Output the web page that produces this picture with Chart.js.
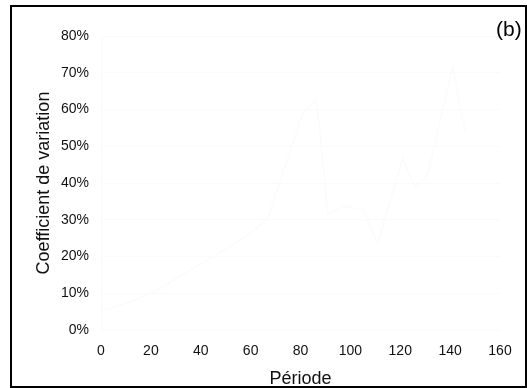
<!DOCTYPE html>
<html>
<head>
<meta charset="utf-8">
<script src="https://cdn.jsdelivr.net/npm/chart.js@4"></script>
<style>
  html, body { margin: 0; padding: 0; background: #fff; }
  #wrap { position: relative; width: 527px; height: 388px; }
  #cadre {
    position: absolute; left: 10px; top: 5px; width: 517px; height: 383px;
    border: 2px solid #000; box-sizing: border-box; pointer-events: none;
  }
  #lettre {
    position: absolute; left: 496px; top: 17px;
    font: 21px "Liberation Sans", Arial, sans-serif; color: #000;
  }
</style>
</head>
<body>
<div id="wrap">
  <canvas id="cvChart" width="527" height="388"></canvas>
  <div id="cadre"></div>
  <div id="lettre">(b)</div>
</div>
<script>
// Période (axe x) et coefficient de variation (fraction)
const periodes = [0, 5, 10, 15, 20, 25, 30, 35, 40, 45, 50, 56, 61, 67, 81, 86, 87, 91, 97, 105, 111, 121, 126, 131, 141, 146];
const coefVariation = [0.054, 0.062, 0.073, 0.085, 0.10, 0.118, 0.14, 0.16, 0.18, 0.199, 0.22, 0.245, 0.27, 0.305, 0.59, 0.626, 0.59, 0.315, 0.338, 0.327, 0.236, 0.468, 0.386, 0.422, 0.716, 0.54];

// Graduations
const ticksX = [0, 20, 40, 60, 80, 100, 120, 140, 160];
const ticksY = [0, 0.1, 0.2, 0.3, 0.4, 0.5, 0.6, 0.7, 0.8];

const police = '"Liberation Sans", Arial, sans-serif';
Chart.defaults.font.family = police;
Chart.defaults.color = '#111';

const points = periodes.map((p, i) => ({ x: p, y: coefVariation[i] }));

// courbe et grille presque blanches, comme sur l'original
new Chart(document.getElementById('cvChart'), {
    type: 'scatter',
    data: {
        datasets: [{
            data: points,
            showLine: true,
            borderColor: '#fbfbfb',
            borderWidth: 1.5,
            pointRadius: 0,
            tension: 0
        }]
    },
    options: {
        responsive: false,
        animation: false,
        layout: { padding: { top: 36, right: 27, left: 0, bottom: 0 } },
        plugins: { legend: { display: false }, tooltip: { enabled: false } },
        scales: {
            x: {
                type: 'linear',
                min: 0, max: 160,
                afterBuildTicks: s => { s.ticks = ticksX.map(v => ({ value: v })); },
                afterFit: s => { s.height = 58; },
                grid: { drawOnChartArea: false, color: '#fafafa', tickLength: 0 },
                border: { color: '#fafafa' },
                ticks: { font: { size: 14 }, padding: 13, maxRotation: 0 },
                title: { display: true, text: 'Période', font: { size: 18 }, padding: { top: 0, bottom: -2 } }
            },
            y: {
                min: 0, max: 0.8,
                afterBuildTicks: s => { s.ticks = ticksY.map(v => ({ value: v })); },
                afterFit: s => { s.width = 101; },
                grid: { color: '#fafafa', drawTicks: false },
                border: { color: '#fafafa' },
                ticks: {
                    font: { size: 14 },
                    padding: 12,
                    callback: v => Math.round(v * 100) + '%'
                },
                title: { display: true, text: 'Coefficient de variation', font: { size: 18 }, padding: { top: 33, bottom: 0 } }
            }
        }
    }
});
</script>
</body>
</html>
